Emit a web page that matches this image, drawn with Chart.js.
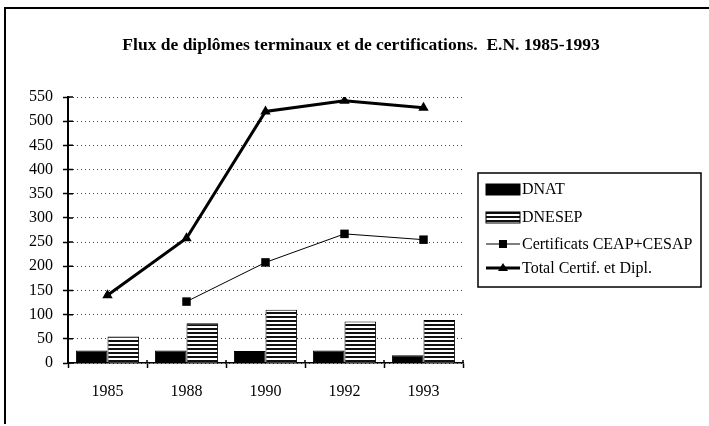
<!DOCTYPE html>
<html>
<head>
<meta charset="utf-8">
<script src="https://cdn.jsdelivr.net/npm/chart.js@4"></script>
<style>
	html, body { margin: 0; padding: 0; background: #fff; }
	#wrap { width: 709px; height: 426px; }
</style>
</head>
<body>
<div id="wrap"><canvas id="chart" width="709" height="426"></canvas></div>
<script>
const years = ['1985', '1988', '1990', '1992', '1993'];
const dnat = [26, 26, 25, 26, 16];
const dnesep = [55, 82, 110, 86, 89];
const certificats = [null, 127, 208, 267, 255];
const total = [140, 258, 520, 542, 528];
const yTicks = [0, 50, 100, 150, 200, 250, 300, 350, 400, 450, 500, 550];

const titleText = 'Flux de diplômes terminaux et de certifications.  E.N. 1985-1993';
const serif = '"Liberation Serif", "DejaVu Serif", serif';

// horizontal stripes for DNESEP bars
const makeStripes = () => {
	const c = document.createElement('canvas');
	c.width = 4; c.height = 4;
	const g = c.getContext('2d');
	g.fillStyle = '#fff';
	g.fillRect(0, 0, 4, 4);
	g.fillStyle = '#111';
	g.fillRect(0, 0, 4, 2);
	return g.createPattern(c, 'repeat');
};
const stripes = makeStripes();

const extras = {
	id: 'extras',
	afterDraw(chart) {
		const ctx = chart.ctx;
		const y = chart.scales.y, x = chart.scales.x;
		ctx.save();
		// frame
		ctx.strokeStyle = '#000';
		ctx.lineWidth = 2;
		ctx.beginPath();
		ctx.moveTo(5, 424); ctx.lineTo(5, 8); ctx.lineTo(709, 8);
		ctx.stroke();

		// title
		ctx.fillStyle = '#000';
		ctx.font = `bold 17.5px ${serif}`;
		ctx.textAlign = 'center';
		ctx.textBaseline = 'middle';
		ctx.fillText(titleText, 361, 45);

		// tick marks crossing into the plot
		ctx.lineWidth = 1.5;
		ctx.beginPath();
		y.ticks.forEach(t => {
			const py = y.getPixelForValue(t.value);
			ctx.moveTo(y.right, py); ctx.lineTo(y.right + 5, py);
		});
		for (let i = 0; i <= years.length; i++) {
			const px = x.left + i * (x.width / years.length);
			ctx.moveTo(px, x.top); ctx.lineTo(px, x.top - 3);
		}
		ctx.stroke();

		// legend
		const lx = 478, ly = 173, lw = 223, lh = 114;
		ctx.lineWidth = 1.5;
		ctx.strokeRect(lx, ly, lw, lh);
		const rows = [189, 217, 244, 268];
		ctx.font = `16px ${serif}`;
		ctx.textAlign = 'left';
		chart.data.datasets.forEach((ds, i) => {
			const ry = rows[i];
			if (ds.type === 'line') {
				ctx.lineWidth = ds.borderWidth;
				ctx.beginPath();
				ctx.moveTo(486, ry); ctx.lineTo(520, ry);
				ctx.stroke();
				ctx.fillStyle = '#000';
				ctx.beginPath();
				if (ds.pointStyle === 'rect') {
					ctx.rect(499, ry - 4, 8, 8);
				} else {
					ctx.moveTo(503, ry - 5); ctx.lineTo(508, ry + 3); ctx.lineTo(498, ry + 3); ctx.closePath();
				}
				ctx.fill();
			} else {
				ctx.fillStyle = ds.backgroundColor;
				ctx.fillRect(486, ry - 5, 34, 11);
				ctx.lineWidth = 1;
				ctx.strokeRect(486, ry - 5, 34, 11);
			}
			ctx.fillStyle = '#000';
			ctx.fillText(ds.label, 522, ry + 1);
		});
		ctx.restore();
	}
};

new Chart(document.getElementById('chart'), {
	data: {
		labels: years,
		datasets: [
			{
				type: 'bar', label: 'DNAT', data: dnat,
				backgroundColor: '#000', borderColor: '#000', borderWidth: 1,
				categoryPercentage: 0.8, barPercentage: 1, order: 2
			},
			{
				type: 'bar', label: 'DNESEP', data: dnesep,
				backgroundColor: stripes, borderColor: '#000', borderWidth: 1,
				categoryPercentage: 0.8, barPercentage: 1, order: 3
			},
			{
				type: 'line', label: 'Certificats CEAP+CESAP', data: certificats,
				borderColor: '#000', borderWidth: 1, backgroundColor: '#000',
				pointStyle: 'rect', pointRadius: 6, pointBorderWidth: 0,
				tension: 0, spanGaps: false, order: 1
			},
			{
				type: 'line', label: 'Total Certif. et Dipl.', data: total,
				borderColor: '#000', borderWidth: 3, backgroundColor: '#000',
				pointStyle: 'triangle', pointRadius: 6, pointBorderWidth: 0,
				tension: 0, order: 0
			}
		]
	},
	options: {
		responsive: false,
		animation: false,
		events: [],
		layout: { padding: { left: 0, right: 246, top: 97, bottom: 23 } },
		plugins: { legend: { display: false }, title: { display: false }, tooltip: { enabled: false } },
		scales: {
			x: {
				offset: true,
				afterFit: s => { s.height = 40; },
				grid: { offset: true, drawOnChartArea: false, tickLength: 5, tickColor: '#000', tickWidth: 1.5 },
				border: { color: '#000', width: 1.5 },
				ticks: { color: '#000', padding: 14, font: { family: serif, size: 16 } }
			},
			y: {
				min: 0, max: 550,
				afterFit: s => { s.width = 68; },
				afterBuildTicks: s => { s.ticks = yTicks.map(v => ({ value: v })); },
				grid: { color: '#444', lineWidth: 1, tickLength: 5, tickColor: '#000', tickWidth: 1.5, tickBorderDash: [] },
				border: { color: '#000', width: 2, dash: [1, 3] },
				ticks: { color: '#000', padding: 10, font: { family: serif, size: 16 } }
			}
		}
	},
	plugins: [extras]
});
</script>
</body>
</html>
